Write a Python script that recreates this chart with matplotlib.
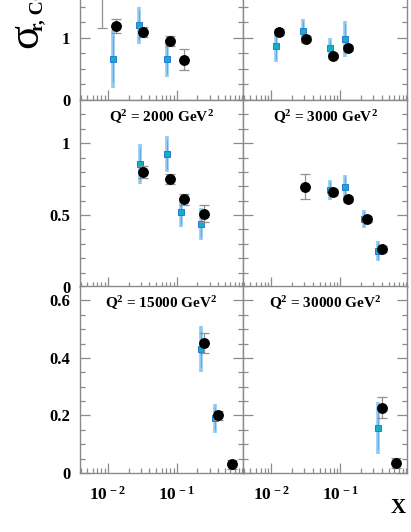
import numpy as np
import matplotlib
matplotlib.use('Agg')
import matplotlib.pyplot as plt
from matplotlib.ticker import FixedLocator, NullFormatter, LogLocator

plt.rcParams['font.family'] = ['Liberation Serif', 'DejaVu Serif']
plt.rcParams['font.weight'] = 'bold'
plt.rcParams['mathtext.fontset'] = 'custom'
plt.rcParams['mathtext.rm'] = 'Liberation Serif:bold'
plt.rcParams['mathtext.it'] = 'Liberation Serif:regular'
plt.rcParams['mathtext.bf'] = 'Liberation Serif:bold'

# panel titles (top row is cut off in the picture)
titles = [None, None, '2000', '3000', '15000', '30000']

# black circles: x, sigma, error
circ_x = [[0.0081, 0.0130, 0.0318, 0.079, 0.128],
          [0.0128, 0.0317, 0.0795, 0.127],
          [0.0318, 0.079, 0.128, 0.246],
          [0.031, 0.0785, 0.129, 0.246, 0.394],
          [0.246, 0.397, 0.641],
          [0.394, 0.645]]
circ_y = [[1.85, 1.19, 1.09, 0.946, 0.645],
          [1.09, 0.98, 0.71, 0.83],
          [0.80, 0.752, 0.61, 0.51],
          [0.698, 0.659, 0.61, 0.475, 0.262],
          [0.452, 0.20, 0.030],
          [0.227, 0.034]]
circ_e = [[0.70, 0.11, 0.08, 0.075, 0.17],
          [0.05, 0.04, 0.03, 0.05],
          [0.042, 0.035, 0.04, 0.06],
          [0.085, 0.02, 0.02, 0.02, 0.02],
          [0.035, 0.015, 0.015],
          [0.037, 0.018]]

# cyan squares
sq_x = [[0.0117, 0.0284, 0.071],
        [0.0116, 0.0284, 0.071, 0.115],
        [0.0291, 0.071, 0.114, 0.223],
        [0.0703, 0.115, 0.222, 0.352],
        [0.223, 0.356],
        [0.352]]
sq_y = [[0.66, 1.20, 0.656],
        [0.86, 1.10, 0.84, 0.98],
        [0.854, 0.923, 0.52, 0.436],
        [0.675, 0.698, 0.473, 0.25],
        [0.431, 0.19],
        [0.157]]
sq_e = [[0.46, 0.30, 0.29],
        [0.25, 0.20, 0.16, 0.29],
        [0.14, 0.125, 0.10, 0.11],
        [0.07, 0.08, 0.06, 0.07],
        [0.08, 0.05],
        [0.09]]

ylims = [3.0, 1.3, 0.65]
ymajor = [[0, 1, 2], [0, 0.5, 1], [0, 0.2, 0.4, 0.6]]
ylabels = [['0', '1', ''], ['0', '0.5', '1'], ['0', '0.2', '0.4', '0.6']]
yminor_step = [0.25, 0.1, 0.05]

W, H = 411, 532
fig = plt.figure(figsize=(W / 100, H / 100), dpi=100)

col_x = [80, 243]
col_w = [163, 164]
row_bottom = [100, 287, 473]
row_h = 187

spine_c = '#8a8a8a'

for i in range(6):
    r, c = i // 2, i % 2
    ax = fig.add_axes([col_x[c] / W, (H - row_bottom[r]) / H, col_w[c] / W, row_h / H])
    ax.set_xscale('log')
    ax.set_xlim(0.0039, 0.92)
    ax.set_ylim(0, ylims[r])

    # squares: total error light blue, thin darker line inside
    ax.errorbar(sq_x[i], sq_y[i], yerr=sq_e[i], fmt='none', ecolor='#8fcaf0',
                elinewidth=2.6, capsize=0, zorder=2)
    ax.errorbar(sq_x[i], sq_y[i], yerr=np.array(sq_e[i]) * 0.8, fmt='none',
                ecolor='#5aa2e4', elinewidth=0.6, capsize=0, zorder=2)
    ax.plot(sq_x[i], sq_y[i], 's', ms=5.0, mfc='#12b0c0', mec='#2a78d4', mew=0.7, zorder=3)

    # circles with grey capped error bars
    ax.errorbar(circ_x[i], circ_y[i], yerr=circ_e[i], fmt='o', ms=6.8, mfc='black', mec='black',
                ecolor='#909090', elinewidth=0.9, capsize=3.5, capthick=0.9, zorder=4)

    ax.yaxis.set_major_locator(FixedLocator(ymajor[r]))
    ax.yaxis.set_minor_locator(FixedLocator(np.arange(0, ylims[r] + 1e-6, yminor_step[r])))
    ax.xaxis.set_major_locator(LogLocator(base=10, numticks=10))
    ax.xaxis.set_minor_locator(LogLocator(base=10, subs=np.arange(2, 10), numticks=20))
    ax.xaxis.set_minor_formatter(NullFormatter())

    ax.tick_params(which='both', direction='in', left=True, right=True, top=False, bottom=True,
                   color=spine_c, width=0.9)
    ax.tick_params(which='major', length=7, labelsize=12, pad=7)
    ax.tick_params(which='minor', length=3.5)

    if c == 0:
        ax.set_yticklabels(ylabels[r], fontweight='bold')
    else:
        ax.set_yticklabels([])

    if r == 2:
        ax.set_xticks([0.01, 0.1])
        ax.set_xticklabels([r'$\mathbf{10^{\,-2}}$', r'$\mathbf{10^{\,-1}}$'], fontsize=12.5)
        ax.tick_params(axis='x', which='major', pad=9)
    else:
        ax.set_xticklabels([])

    for s in ax.spines.values():
        s.set_color(spine_c)
        s.set_linewidth(1.0)

    if titles[i] is not None:
        ax.text(0.5, 0.955, r'Q$^\mathbf{2}$ = ' + titles[i] + r' GeV$^\mathbf{2}$', transform=ax.transAxes,
                ha='center', va='top', fontsize=11, fontweight='bold')

# y label, cut at the top edge as in the picture
fig.text(26 / W, (H - 48) / H, 'σ', rotation=90, ha='center', va='bottom',
         fontsize=32, fontweight='normal')
fig.text(38 / W, (H - 31) / H, 'r, CC', rotation=90, ha='center', va='bottom',
         fontsize=14, fontweight='bold')
fig.text(398 / W, (H - 508) / H, 'X', ha='center', va='center', fontsize=15, fontweight='bold')

fig.savefig('out.png', dpi=100)
